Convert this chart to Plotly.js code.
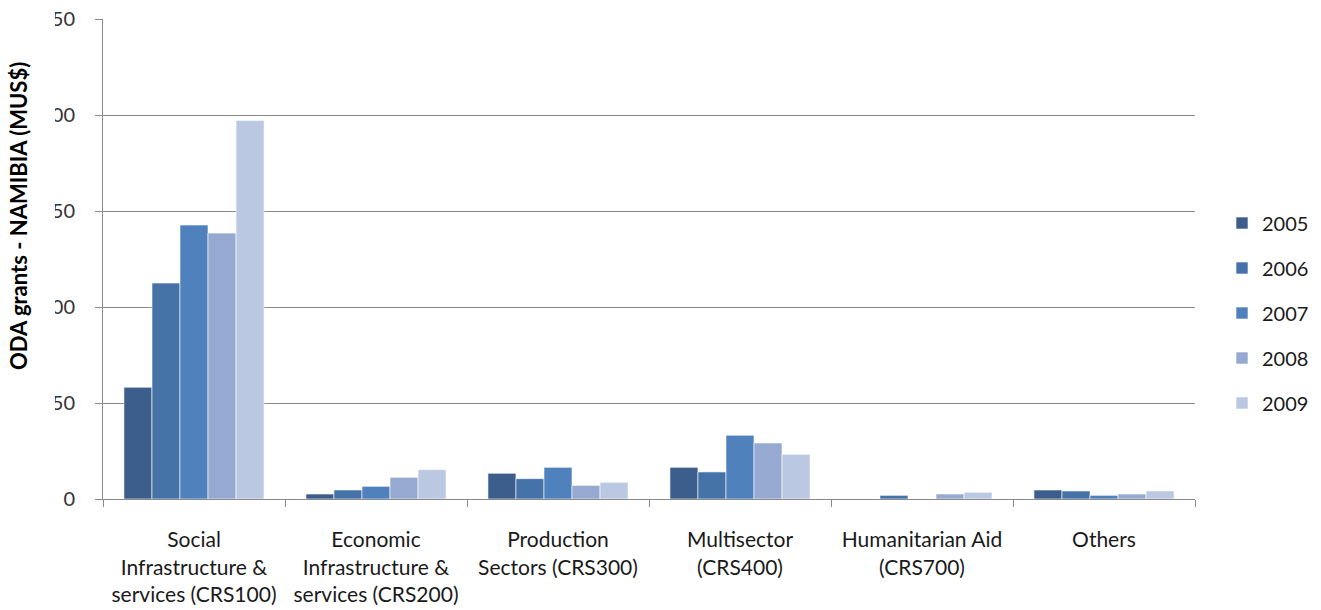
<!DOCTYPE html>
<html>
<head>
<meta charset="utf-8">
<script src="https://cdn.plot.ly/plotly-3.0.1.min.js"></script>
<style>html,body{margin:0;padding:0;background:#fff;}#chart{width:1321px;height:610px;}</style>
</head>
<body>
<div id="chart"></div>
<script>
const categories = [
  "Social<br>Infrastructure &<br>services (CRS100)",
  "Economic<br>Infrastructure &<br>services (CRS200)",
  "Production<br>Sectors (CRS300)",
  "Multisector<br>(CRS400)",
  "Humanitarian Aid<br>(CRS700)",
  "Others"
];
const years = ["2005", "2006", "2007", "2008", "2009"];
const v2005 = [58.2, 2.6, 13.4, 16.5, 0, 4.7];
const v2006 = [112.5, 4.7, 10.6, 14.1, 1.9, 4.2];
const v2007 = [142.7, 6.6, 16.5, 33.2, 0, 1.9];
const v2008 = [138.5, 11.3, 7.1, 29.2, 2.6, 2.6];
const v2009 = [197.2, 15.3, 8.7, 23.3, 3.5, 4.2];
const yTicks = [0, 50, 100, 150, 200, 250];
const colors = ["#3B5E8C", "#4573A8", "#4F81BD", "#95A9D1", "#BBC8E1"];
const series = [v2005, v2006, v2007, v2008, v2009];

const FONT = "Lato, 'Open Sans', sans-serif";

const traces = series.map((vals, i) => ({
  type: "bar",
  name: years[i],
  x: categories,
  y: vals,
  legendgroup: years[i],
  marker: {color: colors[i], line: {color: "rgba(255,255,255,0.6)", width: 1}},
  hoverinfo: "skip"
}));

const layout = {
  width: 1321,
  height: 610,
  margin: {l: 103, r: 126, t: 19, b: 111, pad: 0, autoexpand: false},
  paper_bgcolor: "#ffffff",
  plot_bgcolor: "#ffffff",
  barmode: "group",
  bargap: 0.23,
  bargroupgap: 0,
  showlegend: true,
  font: {family: FONT, color: "#1a1a1a"},
  xaxis: {
    type: "category",
    showgrid: false,
    showline: true,
    linecolor: "#8a8a8a",
    linewidth: 1,
    ticks: "outside",
    tickson: "boundaries",
    ticklen: 7,
    tickcolor: "#8a8a8a",
    tickfont: {family: FONT, size: 21, color: "#1a1a1a"},
    ticklabelstandoff: 22,
    tickangle: 0,
    automargin: false,
    zeroline: false
  },
  yaxis: {
    range: [0, 250],
    tickvals: yTicks,
    ticktext: yTicks.map(String),
    showgrid: true,
    gridcolor: "#8a8a8a",
    gridwidth: 1,
    showline: true,
    linecolor: "#8a8a8a",
    linewidth: 1,
    ticks: "outside",
    ticklen: 7,
    tickcolor: "#8a8a8a",
    tickfont: {family: FONT, size: 20, color: "#333333"},
    ticklabelstandoff: 16,
    automargin: false,
    zeroline: false
  },
  legend: {
    x: (1222 - 103) / 1092,
    xanchor: "left",
    y: (499 - 313) / 480,
    yanchor: "middle",
    font: {family: FONT, size: 20, color: "#1a1a1a"},
    tracegroupgap: 16,
    itemwidth: 30,
    bgcolor: "rgba(0,0,0,0)"
  },
  shapes: [{
    type: "rect",
    xref: "paper", yref: "paper",
    x0: (30 - 103) / 1092, x1: (55 - 103) / 1092,
    y0: -0.05, y1: 1.05,
    fillcolor: "#ffffff",
    line: {width: 0},
    layer: "above"
  }],
  annotations: [{
    text: "<b>ODA grants - NAMIBIA (MUS$)</b>",
    xref: "paper", yref: "paper",
    x: (18 - 103) / 1092, y: (499 - 216) / 480,
    xanchor: "center", yanchor: "middle",
    textangle: -90,
    showarrow: false,
    font: {family: FONT, size: 22, color: "#000000"}
  }]
};

Plotly.newPlot("chart", traces, layout, {displayModeBar: false, staticPlot: true});
</script>
</body>
</html>
